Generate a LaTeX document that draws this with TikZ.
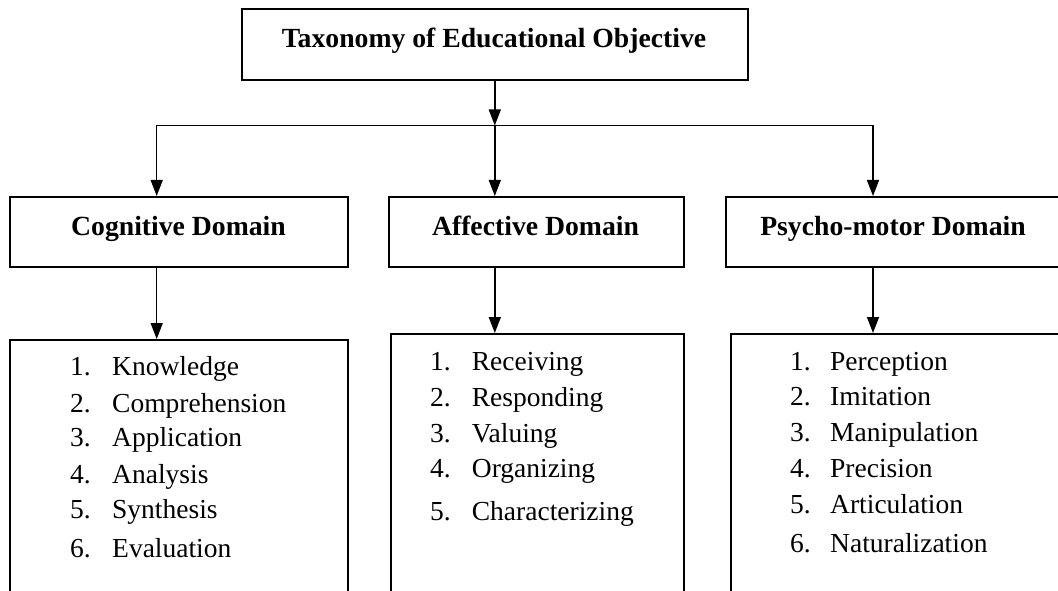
\documentclass[tikz,border=0pt]{standalone}
\usepackage{fontspec}
\setmainfont{Liberation Serif}
\usetikzlibrary{arrows.meta}
\begin{document}
\begin{tikzpicture}[x=1pt,y=-1pt,
  box/.style={draw,line width=1.9pt,inner sep=0pt,anchor=north west},
  conn/.style={line width=1.4pt},
  arr/.style={line width=1.4pt,-{Triangle[length=16pt,width=12pt]}},
  hd/.style={font=\fontsize{27.7}{33}\selectfont\bfseries,anchor=base,inner sep=0pt},
  num/.style={font=\fontsize{27.5}{33}\selectfont,anchor=base west,inner sep=0pt},
  itm/.style={font=\fontsize{27.5}{33}\selectfont,anchor=base west,inner sep=0pt}]
\useasboundingbox (0,0) rectangle (1058,591);
% boxes
\node[box,minimum width=505.7pt,minimum height=71pt] (top) at (241,8) {};
\node[box,minimum width=338pt,minimum height=70pt] (cog) at (9,196) {};
\node[box,minimum width=295pt,minimum height=70pt] (aff) at (388,196) {};
\node[box,minimum width=336pt,minimum height=70pt] (psy) at (725,196) {};
\node[box,minimum width=338pt,minimum height=270pt] (cogl) at (9,339) {};
\node[box,minimum width=293pt,minimum height=276pt] (affl) at (390,333) {};
\node[box,minimum width=331pt,minimum height=276pt] (psyl) at (730,333) {};
% headings
\node[hd] (ttop) at (494,48) {Taxonomy of Educational Objective};
\node[hd] (tcog) at (178.5,235) {Cognitive Domain};
\node[hd] (taff) at (535.5,235) {Affective Domain};
\node[hd] (tpsy) at (893,235) {Psycho-motor Domain};
% connectors
\coordinate (hl) at (156.7,125.5);
\coordinate (hr) at (873,125.5);
\draw[conn] (hl) -- (hr);
\draw[arr] (top.south) -- (top.south |- hl);
\draw[arr] (hl) -- (hl |- cog.north);
\draw[arr] (top.south |- hl) -- (top.south |- aff.north);
\draw[arr] (hr) -- (hr |- psy.north);
\draw[arr] (hl |- cog.south) -- (hl |- cogl.north);
\draw[arr] (top.south |- aff.south) -- (top.south |- affl.north);
\draw[arr] (hr |- psy.south) -- (hr |- psyl.north);
% cognitive list
\node[num] (c1n) at (70,375) {1.};  \node[itm] (c1) at (112,375) {Knowledge};
\node[num] (c2n) at (70,412) {2.};  \node[itm] (c2) at (112,412) {Comprehension};
\node[num] (c3n) at (70,446) {3.};  \node[itm] (c3) at (112,446) {Application};
\node[num] (c4n) at (70,483) {4.};  \node[itm] (c4) at (112,483) {Analysis};
\node[num] (c5n) at (70,518) {5.};  \node[itm] (c5) at (112,518) {Synthesis};
\node[num] (c6n) at (70,557) {6.};  \node[itm] (c6) at (112,557) {Evaluation};
% affective list
\node[num] (a1n) at (430,370) {1.};  \node[itm] (a1) at (471.7,370) {Receiving};
\node[num] (a2n) at (430,406) {2.};  \node[itm] (a2) at (471.7,406) {Responding};
\node[num] (a3n) at (430,442) {3.};  \node[itm] (a3) at (471.7,442) {Valuing};
\node[num] (a4n) at (430,477) {4.};  \node[itm] (a4) at (471.7,477) {Organizing};
\node[num] (a5n) at (430,520) {5.};  \node[itm] (a5) at (471.7,520) {Characterizing};
% psycho-motor list
\node[num] (p1n) at (790,370) {1.};  \node[itm] (p1) at (830,370) {Perception};
\node[num] (p2n) at (790,405) {2.};  \node[itm] (p2) at (830,405) {Imitation};
\node[num] (p3n) at (790,441) {3.};  \node[itm] (p3) at (830,441) {Manipulation};
\node[num] (p4n) at (790,477) {4.};  \node[itm] (p4) at (830,477) {Precision};
\node[num] (p5n) at (790,513) {5.};  \node[itm] (p5) at (830,513) {Articulation};
\node[num] (p6n) at (790,552) {6.};  \node[itm] (p6) at (830,552) {Naturalization};
\end{tikzpicture}
\end{document}
